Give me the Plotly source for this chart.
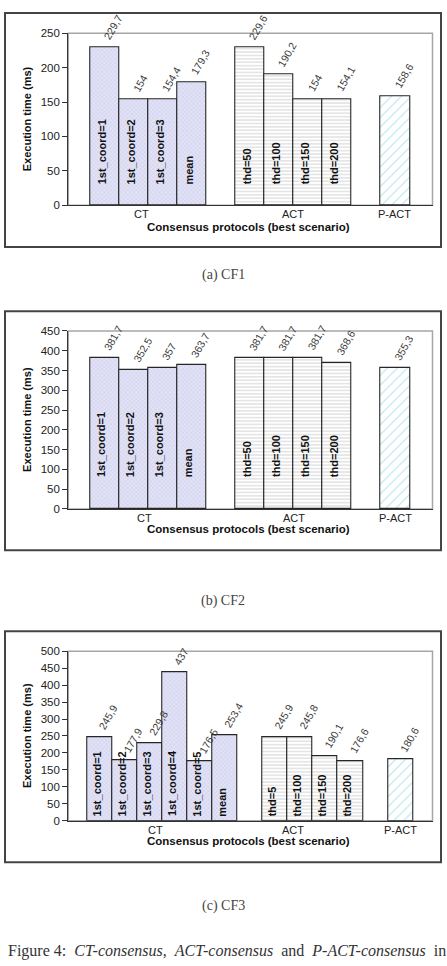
import plotly.graph_objects as go

W, H = 447, 966

# ---------------- data ----------------
group_names = ["CT", "ACT", "P-ACT"]

ct_labels_1 = ["1st_coord=1", "1st_coord=2", "1st_coord=3", "mean"]
ct_values_1 = [229.7, 154, 154.4, 179.3]
act_labels_1 = ["thd=50", "thd=100", "thd=150", "thd=200"]
act_values_1 = [229.6, 190.2, 154, 154.1]
pact_labels_1 = [""]
pact_values_1 = [158.6]

ct_labels_2 = ["1st_coord=1", "1st_coord=2", "1st_coord=3", "mean"]
ct_values_2 = [381.7, 352.5, 357, 363.7]
act_labels_2 = ["thd=50", "thd=100", "thd=150", "thd=200"]
act_values_2 = [381.7, 381.7, 381.7, 368.6]
pact_labels_2 = [""]
pact_values_2 = [355.3]

ct_labels_3 = ["1st_coord=1", "1st_coord=2", "1st_coord=3", "1st_coord=4", "1st_coord=5", "mean"]
ct_values_3 = [245.9, 177.9, 229.8, 437, 176.5, 253.4]
act_labels_3 = ["thd=5", "thd=100", "thd=150", "thd=200"]
act_values_3 = [245.9, 245.8, 190.1, 176.6]
pact_labels_3 = [""]
pact_values_3 = [180.6]

y_max = [250, 450, 500]
y_step = 50
captions = ["(a) CF1", "(b) CF2", "(c) CF3"]
x_title = "Consensus protocols (best scenario)"
y_title = "Execution time (ms)"
caption_words = ["Figure 4:", "<i>CT-consensus</i>,", "<i>ACT-consensus</i>", "and",
                 "<i>P-ACT-consensus</i>", "in"]

panels_data = [
    [(ct_labels_1, ct_values_1), (act_labels_1, act_values_1), (pact_labels_1, pact_values_1)],
    [(ct_labels_2, ct_values_2), (act_labels_2, act_values_2), (pact_labels_2, pact_values_2)],
    [(ct_labels_3, ct_values_3), (act_labels_3, act_values_3), (pact_labels_3, pact_values_3)],
]

# ---------------- layout geometry (pixels) ----------------
geom = [
    dict(box=(5, 7, 441, 244), plot=(68.3, 27.7, 432.5, 201.7), xt=223.3, gap=19,
         cap=272, cat_shift=[-7, -1, -1]),
    dict(box=(5, 309, 441, 551), plot=(68.3, 329, 432.5, 509.3), xt=530, gap=30,
         cap=602, cat_shift=[-4, 0, 0]),
    dict(box=(5, 633, 441, 867), plot=(68.3, 653.3, 432.5, 825), xt=846, gap=2.5,
         cap=911.7, cat_shift=[-7, -20, 0]),
]


def px(x):
    return x / W


def py(y):
    return 1 - y / H


SANS = "Liberation Sans, Arial, sans-serif"
SERIF = "Liberation Serif, Times New Roman, serif"

styles = [
    dict(color="#e2e2f7", pattern=dict(shape="x", fgcolor="#9d9dce", size=3, solidity=0.2)),
    dict(color="#ffffff", pattern=dict(shape="-", fgcolor="#a8a8a8", size=3.4, solidity=0.3)),
    dict(color="#ffffff", pattern=dict(shape="/", fgcolor="#6fcdd4", size=7, solidity=0.16)),
]

fig = go.Figure()
annotations = []
shapes = []
layout_axes = {}

for p, (groups, g) in enumerate(zip(panels_data, geom)):
    n = p + 1
    xa = "x" if n == 1 else f"x{n}"
    ya = "y" if n == 1 else f"y{n}"
    xkey = "xaxis" if n == 1 else f"xaxis{n}"
    ykey = "yaxis" if n == 1 else f"yaxis{n}"
    x0, y0, x1, y1 = g["plot"]

    offset = 0
    centers = []
    last = 0
    for gi, (labels, values) in enumerate(groups):
        xs = [offset + j for j in range(len(values))]
        centers.append(offset + (len(values) - 1) / 2)
        last = xs[-1]
        st = styles[gi]
        fig.add_trace(go.Bar(
            x=xs, y=values, width=1, xaxis=xa, yaxis=ya, showlegend=False,
            marker=dict(color=st["color"], pattern=st["pattern"],
                        line=dict(color="#262626", width=1.1)),
            hoverinfo="skip",
        ))
        for xv, v, lab in zip(xs, values, labels):
            annotations.append(dict(
                x=xv, y=v, xref=xa, yref=ya, text=f"{v:g}".replace(".", ","),
                textangle=-60, xanchor="left", yanchor="bottom",
                xshift=-6, yshift=3, showarrow=False,
                font=dict(family=SANS, size=10.5, color="#3a3a3a")))
            if lab:
                annotations.append(dict(
                    x=xv, y=0, xref=xa, yref=ya, text=f"<b>{lab}</b>",
                    textangle=-90, xanchor="center", yanchor="bottom",
                    xshift=-3, yshift=g["gap"], showarrow=False,
                    font=dict(family=SANS, size=11, color="#111111")))
        offset += len(values) + 1

    # category labels under the axis
    for c, name, sh in zip(centers, group_names, g["cat_shift"]):
        annotations.append(dict(
            x=c, y=py(y1 + 9), xref=xa, yref="paper", text=name,
            xanchor="center", yanchor="middle", xshift=sh, showarrow=False,
            font=dict(family=SANS, size=11, color="#222222")))

    layout_axes[xkey] = dict(
        domain=[px(x0), px(x1)], range=[-1.25, last + 1.28], anchor=ya,
        showticklabels=False, showgrid=False, zeroline=False,
        showline=True, linecolor="#333333", linewidth=1.3, ticks="",
        fixedrange=True)
    layout_axes[ykey] = dict(
        domain=[py(y1), py(y0)], range=[0, y_max[p]], anchor=xa, dtick=y_step,
        tick0=0, showgrid=False, zeroline=False, showline=True,
        linecolor="#333333", linewidth=1.3, ticks="outside", ticklen=5,
        tickcolor="#333333", tickwidth=1.2,
        tickfont=dict(family=SANS, size=11.5, color="#222222"), fixedrange=True)

    # plot area border (gray)
    shapes.append(dict(type="rect", xref=f"{xa} domain", yref=f"{ya} domain",
                       x0=0, x1=1, y0=0, y1=1, layer="below",
                       line=dict(color="#a6a6a6", width=1.5)))
    # outer box
    bx0, by0, bx1, by1 = g["box"]
    shapes.append(dict(type="rect", xref="paper", yref="paper",
                       x0=px(bx0), x1=px(bx1), y0=py(by1), y1=py(by0),
                       line=dict(color="#444444", width=2)))

    # axis titles
    annotations.append(dict(
        x=px(248), y=py(g["xt"]), xref="paper", yref="paper",
        text=f"<b>{x_title}</b>", showarrow=False, xanchor="center", yanchor="middle",
        font=dict(family=SANS, size=11.5, color="#111111")))
    annotations.append(dict(
        x=px(27), y=py((y0 + y1) / 2), xref="paper", yref="paper",
        text=f"<b>{y_title}</b>", showarrow=False, textangle=-90,
        xanchor="center", yanchor="middle",
        font=dict(family=SANS, size=11, color="#111111")))
    # caption
    annotations.append(dict(
        x=px(223), y=py(g["cap"]), xref="paper", yref="paper",
        text=captions[p], showarrow=False, xanchor="center", yanchor="middle",
        font=dict(family=SERIF, size=14, color="#444444")))

# justified-looking figure caption (wider word spacing)
annotations.append(dict(
    x=px(226.5), y=py(957), xref="paper", yref="paper",
    text=" \u00a0".join(caption_words), showarrow=False, xanchor="center",
    yanchor="middle", font=dict(family=SERIF, size=16, color="#333333")))

fig.update_layout(
    width=W, height=H, margin=dict(l=0, r=0, t=0, b=0),
    paper_bgcolor="white", plot_bgcolor="white",
    barmode="overlay", bargap=0,
    annotations=annotations, shapes=shapes, **layout_axes)

fig.write_html("out.html", config={"displayModeBar": False})
